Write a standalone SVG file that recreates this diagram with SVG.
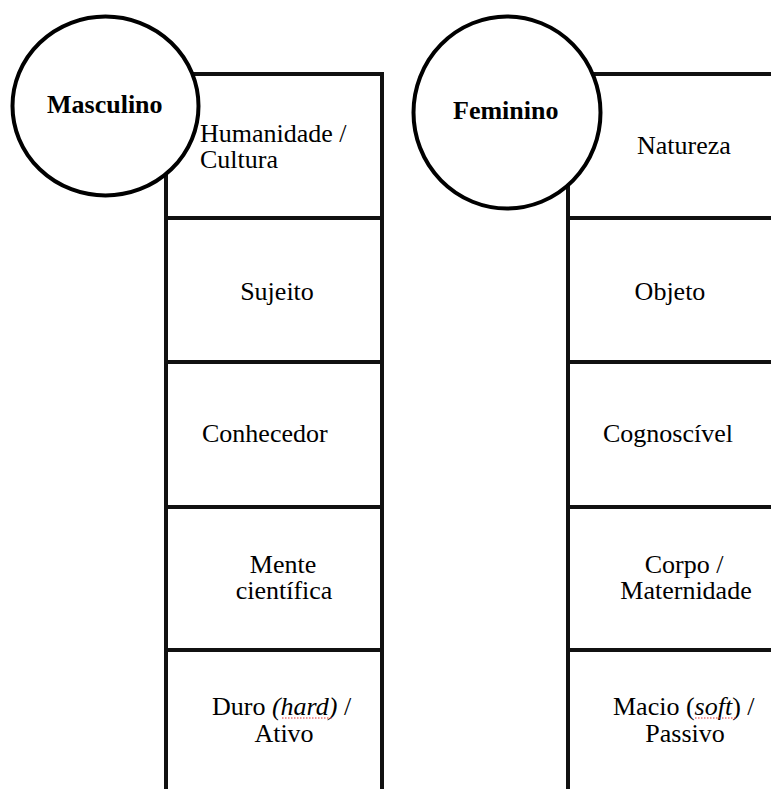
<svg xmlns="http://www.w3.org/2000/svg" width="771" height="789" viewBox="0 0 771 789">
<style>
.ln{stroke:#111;stroke-width:4;fill:none;stroke-linecap:square}
.c{stroke:#000;stroke-width:4;fill:#fff}
text{font-family:"Liberation Serif","Times New Roman",serif;font-size:26px;fill:#000}
.b{font-weight:bold}
.m{text-anchor:middle}
.sp{stroke:#e03030;stroke-width:1;stroke-dasharray:1.5 1.5;fill:none}
</style>
<rect width="771" height="789" fill="#fff"/>
<g id="connectors">
<g id="left-frame">
<line class="ln" x1="166" y1="74" x2="166" y2="791"/>
<line class="ln" x1="382" y1="74" x2="382" y2="791"/>
<line class="ln" x1="166" y1="74" x2="382" y2="74"/>
<line class="ln" x1="166" y1="218" x2="382" y2="218"/>
<line class="ln" x1="166" y1="362" x2="382" y2="362"/>
<line class="ln" x1="166" y1="507" x2="382" y2="507"/>
<line class="ln" x1="166" y1="650" x2="382" y2="650"/>
</g>
<g id="right-frame">
<line class="ln" x1="568" y1="74" x2="568" y2="791"/>
<line class="ln" x1="568" y1="74" x2="773" y2="74"/>
<line class="ln" x1="568" y1="218" x2="773" y2="218"/>
<line class="ln" x1="568" y1="362" x2="773" y2="362"/>
<line class="ln" x1="568" y1="507" x2="773" y2="507"/>
<line class="ln" x1="568" y1="650" x2="773" y2="650"/>
</g>
</g>
<g id="cell-humanidade"><text x="200" y="142">Humanidade /</text><text x="200" y="168">Cultura</text></g>
<g id="cell-sujeito"><text class="m" x="277" y="300">Sujeito</text></g>
<g id="cell-conhecedor"><text x="202" y="442">Conhecedor</text></g>
<g id="cell-mente"><text class="m" x="283" y="573">Mente</text><text class="m" x="284" y="599">científica</text></g>
<g id="cell-duro"><text x="212" y="715">Duro <tspan font-style="italic">(hard)</tspan> /</text><text class="m" x="284" y="742">Ativo</text><path class="sp" d="M282 718 L332 718"/></g>
<g id="cell-natureza"><text x="637" y="154">Natureza</text></g>
<g id="cell-objeto"><text class="m" x="670" y="300">Objeto</text></g>
<g id="cell-cognoscivel"><text x="603" y="442">Cognoscível</text></g>
<g id="cell-corpo"><text class="m" x="684" y="573">Corpo /</text><text class="m" x="686" y="599">Maternidade</text></g>
<g id="cell-macio"><text x="613" y="715">Macio (<tspan font-style="italic">soft</tspan>) /</text><text class="m" x="685" y="742">Passivo</text><path class="sp" d="M695 718 L736 718"/></g>
<g id="masculino"><ellipse class="c" cx="105.5" cy="106" rx="93" ry="89.5"/><text class="b" x="47" y="113">Masculino</text></g>
<g id="feminino"><ellipse class="c" cx="507" cy="112.5" rx="93.5" ry="96"/><text class="b" x="453" y="119">Feminino</text></g>
</svg>
